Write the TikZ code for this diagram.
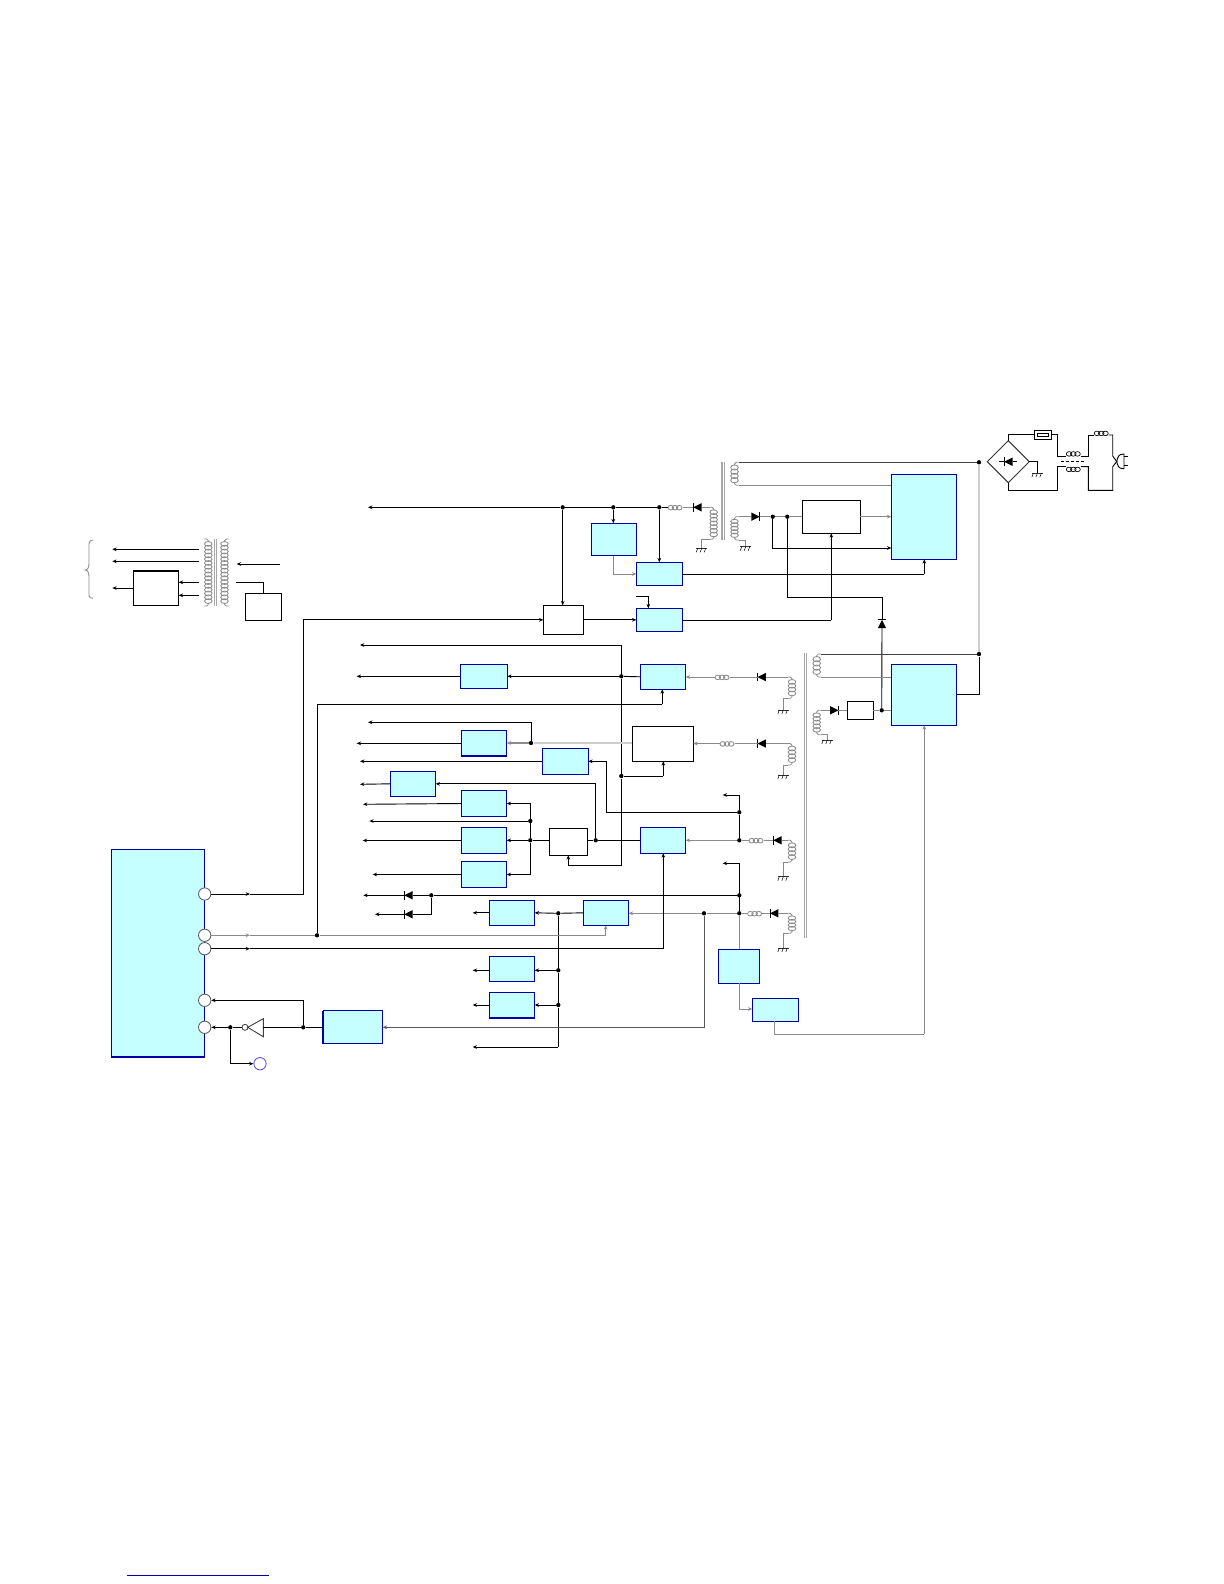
\documentclass[tikz,border=0pt]{standalone}
\usepackage{tikz}
\usetikzlibrary{positioning, arrows.meta, shapes.geometric}
\usepackage{xcolor}
\definecolor{cyanfill}{HTML}{C6FFFF}
\definecolor{boxblue}{HTML}{0000A8}
\definecolor{wiregray}{HTML}{8A8A8A}
\definecolor{palegray}{HTML}{CFCFCF}
\definecolor{pinblue}{HTML}{5050D0}
\tikzset{
  pics/diode/.style={code={
    \coordinate (-in) at (-4.2,0);
    \coordinate (-out) at (4.2,0);
    \fill (-4.2,-4.2) -- (4.2,0) -- (-4.2,4.2) -- cycle;
    \draw[line width=0.55pt] (4.2,-4.4) -- (4.2,4.4);
  }},
  pics/ind/.style={code={
    \coordinate (-a) at (-7.5,0);
    \coordinate (-b) at (7.5,0);
    \foreach \k in {-4.2,0,4.2} \draw[indln] (\k,0.4) ellipse [x radius=2.8, y radius=2.3];
  }},
  pics/vcoil/.style 2 args={code={
    \coordinate (-t) at (#2,-3);
    \coordinate (-b) at (#2,#1+3);
    \pgfmathtruncatemacro{\nloop}{round(#1/3.8)}
    \pgfmathsetmacro{\stp}{#1/\nloop}
    \foreach \i in {1,...,\nloop}
      \draw[grayw] (0,{(\i-0.5)*\stp}) ellipse [x radius=3.8, y radius={\stp*0.62}];
    \draw[grayw, rounded corners=1pt] (-t) -| (0,0);
    \draw[grayw, rounded corners=1pt] (0,#1) |- (-b);
  }},
  pics/gnd/.style={code={
    \draw[draw=black!80, line width=0.45pt] (-5.5,0) -- (5.5,0);
    \foreach \k in {-4,0,4} \draw[line width=0.3pt] (\k,0) -- (\k-1.5,4);
  }},
}
\begin{document}
\begin{tikzpicture}[
    x=0.6pt, y=-0.6pt,
    boxsize/.style 2 args={minimum width=#1*0.6pt, minimum height=#2*0.6pt},
    bluebox/.style={rectangle, draw=boxblue, fill=cyanfill, line width=0.6pt,
      inner sep=0pt, outer sep=0pt},
    plainbox/.style={rectangle, draw=black, fill=white, line width=0.6pt,
      inner sep=0pt, outer sep=0pt},
    wire/.style={draw=black, line width=0.55pt},
    grayw/.style={draw=wiregray, line width=0.5pt},
    indln/.style={grayw},
    paleln/.style={draw=palegray, line width=0.9pt},
    arr/.style={-{Stealth[length=2.6pt, width=2.2pt]}},
    dot/.style={circle, fill=black, inner sep=0pt, minimum size=2.6pt},
    pin/.style={circle, draw=black!65, fill=white, line width=0.5pt, inner sep=0pt, minimum size=7.4pt},
    edge/.style={draw=boxblue, line width=1.1pt},
  ]
  \useasboundingbox (0,0) rectangle (1224,1584);

  \node[bluebox, boxsize={93.4}{207.7}] (mcu) at (158,953.2) {};
  \node[bluebox, boxsize={65.4}{85}] (bTop) at (924,516.8) {};
  \node[bluebox, boxsize={65.4}{61}] (bLow) at (924,694.8) {};
  \foreach \n/\x/\y/\w/\h in {
      bA/614/539.5/45.4/32.4, bB/659.3/573.8/46/23, bC/659.3/619.8/46/23,
      bD/483.8/676.3/47/24, bE/663/676.8/45.4/25, bF/484/743.3/45.4/26,
      bG/565.3/761.3/46/26, bH/413/783.8/45.4/25, bI/484/803.5/45.4/26.4,
      bJ/484/840.5/45.4/26.4, bK/484/874.5/45.4/26, bL/663/840.3/45.4/26,
      bM/512/912.8/45.4/25, bN/606/912.8/45.4/25, bO/512/968.8/45.4/25,
      bP/512/1005.3/45.4/26, bQ/738.8/966.3/41/34, bR/775.5/1009.8/46.4/23,
      bS/353/1027.3/59.4/33}
    \node[bluebox, boxsize={\w}{\h}] (\n) at (\x,\y) {};
  \foreach \n/\x/\y/\w/\h in {
      wReg/831.3/516.8/58/33, wVreg/860.3/710.3/26/18, wA/563.3/619.8/40/29,
      wB/662.8/743.8/61/35, wC/568.5/841.8/38.4/27, wD/156/588/45.4/34.6,
      wE/263.5/606.8/36.4/27}
    \node[plainbox, boxsize={\w}{\h}] (\n) at (\x,\y) {};

  \draw[edge] (mcu.south west) -- (mcu.south east);
  \draw[edge] (bF.south west) -- (bF.south east);
  \draw[edge] (bP.south west) -- (bP.south east);
  \draw[edge] (bS.south west) -- (bS.north west);
  \draw[wire, line width=1.1pt] (wD.north west) -- (wD.north east);

  \foreach \n/\x/\y in {
      jrA/562.7/507.3, jrB/613.3/507.3, jrC/659.3/507.3, jtA/772.7/516.7,
      jtB/787.3/516.7, jhA/979/462.3, jhB/979/654, jlA/881.7/710.3,
      jpE/621.3/676.3, jpW/621.3/776, jmA/531/743, jkA/530.3/821, jkB/530.3/840.3,
      jsA/595.7/840.3, jvA/739.3/812.3, jvB/739.3/840.3, jvC/739.3/895.3,
      jvD/739.3/913.3, jgA/704/913.3, jdA/431.3/895.3, jnA/558.3/913.3,
      jnB/558.3/970.3, jnC/558.3/1005, jpin/317/935.3, jinv/303.3/1027.3,
      jmcu/230.3/1027.3}
    \node[dot] (\n) at (\x,\y) {};

  \foreach \n/\x/\y in {
      outA/368/507.3, outB/360/645, outC/356.7/676.3, outD/368/722.3,
      outE/356.7/743.3, outF/360/761.3, outG/360/784.3, outH/363/804.3,
      outI/369.3/821, outJ/362.7/840.5, outK/372.7/874.5, outL/363.3/895.3,
      outM/375/914.3, outN/472.7/912.8, outO/472.7/970.3, outP/472.7/1005,
      outQ/472.7/1047, outR/722.7/795, outS/722.7/863.3,
      cnA/303.3/619.8, cnB/605.7/935.3, cnC/662.3/704.3, cnD/663.3/948.7,
      cnE/924.3/574.3, cnF/831.3/620.3, cnG/882/597.3, cnH/613.3/574,
      stubA/636/596.7, cnI/648.3/596.7, cnJ/606.3/812.3, cnK/595.7/783.7,
      cnL/568.3/865.3, cnM/663.3/776, cnN/558.3/1047, cnO/739.3/1009,
      cnP/924.3/1034, cnQ/531/722.3, cnR/431.3/914.3, cnS/530.3/875,
      cnT/891.3/548, cnU/774.3/1021.3,
      mkA/250/894, mkB/250/935.3, mkC/250/948.7,
      lftA/112.3/549.3, lftB/112.3/561.3, lftC/112.3/588,
      trA/199/549.3, trB/199/561.3, trC/199/582.3, trD/199/595.3,
      trE/280/564, trF/236.7/564, trG/236/582.3,
      chA/1057.3/456, chD/1088.3/456,
      chE/1057.3/466.7, chH/1088.3/466.7,
      chI/1057.3/490.3, chJ/1112.7/490.3, plA/1112.7/456, plB/1112.7/466.7,
      plT/1116.7/461.5, brG/1037.3/473.3, uline/127/1575.3, ulineb/268.7/1575.3}
    \coordinate (\n) at (\x,\y);

  % supply side, top right
  \node[diamond, draw=black!80, aspect=1, line width=0.6pt, inner sep=0pt, outer sep=0pt,
    boxsize={42}{42}] (bridge) at (1008.3,461.7) {};
  \node[plainbox, boxsize={17.7}{9.3}] (fuse) at (1042.85,434.7) {};
  \node[plainbox, boxsize={11.4}{3.7}] (fusein) at (1043,434.85) {};
  \pic[rotate=180] (dBr) at (1008.3,461.7) {diode};
  \draw[wire, line width=0.4pt] (999.3,461.7) -- (dBr-out);
  \draw[wire, line width=0.4pt] (dBr-in) -- (1017.3,461.7);
  \draw[wire] (bridge.north) |- (fuse.west);
  \pic[indln/.style={wire, line width=0.4pt}] (iChA) at (1073.3,453.5) {ind};
  \pic[indln/.style={wire, line width=0.4pt}] (iChB) at (1073.3,469) {ind};
  \draw[wire] (fuse.east) -| (chA) -- (iChA-a |- chA);
  \draw[wire] (bridge.south) |- (chI) -- (chE) -- (iChB-a |- chE);
  \draw[wire] (bridge.east) -| (brG);
  \pic at (brG) {gnd};
  \pic[indln/.style={wire, line width=0.4pt}] (iCh) at (1101.2,433) {ind};
  \draw[wire] (iChA-b |- chD) -- (chD) |- (iCh-a |- 0,435);
  \draw[wire] (iCh-b |- 0,435) -| (plA) -- (plT) -- (plB) -- (chJ) -- (chH |- chJ) -- (chH) -- (iChB-b |- chH);
  \draw[wire, dash pattern=on 2pt off 1pt] (1061,461.3) -- (1085,461.3);
  \draw[wire] (1124,454) .. controls (1118,454) and (1118,457) .. (plT)
    .. controls (1118,466) and (1118,468.7) .. (1124,468.7) -- cycle;
  \draw[wire] (1124,456) -- (1128.3,456);
  \draw[wire] (1124,465.7) -- (1128.3,465.7);
  \draw[paleln, line width=1.1pt] (jhA) -- (jhB);

  % transformer cores
  \foreach \x/\a/\b in {722/461.7/540, 724.3/461.7/540, 804.3/653/938, 806.7/653/938,
      214.3/539/606, 216.7/539/606}
    \draw[paleln, line width=0.7pt, draw=palegray!80!black] (\x,\a) -- (\x,\b);

  \pic (cA) at (734.5,465.3) {vcoil={17}{4}};
  \draw[wire, draw=black!75] (cA-t) -- (jhA);
  \draw[grayw] (cA-b) -- (cA-b -| bTop.west);
  \pic (cB) at (734.5,519.7) {vcoil={17.3}{4}};
  \pic[rotate=0] (dB) at (755.5,516.7) {diode};
  \draw[grayw] (cB-t) -- (dB-in);
  \draw[grayw] (dB-out) -- (jtA) -- (jtB) -- (jtB -| wReg.west);
  \draw[grayw, arr] (wReg.east |- jtB) -- (jtB -| bTop.west);
  \draw[wire, arr] (jtA) |- (cnT);
  \draw[grayw] (cB-b) -| (745.7,546.7);
  \pic at (745.7,546.7) {gnd};
  \draw[wire] (jtB) |- (cnG);
  \pic[rotate=90] (dU) at (882,624) {diode};
  \draw[wire] (jlA) -- (dU-in);
  \draw[wire] (dU-out) -- (cnG);

  \pic (cC) at (816.7,657) {vcoil={17}{4}};
  \draw[wire, draw=black!75] (cC-t) -- (jhB);
  \draw[grayw] (cC-b) -- (cC-b -| bLow.west);
  \draw[wire] (bLow.east) -| (jhB);
  \pic (cD) at (816.7,713.3) {vcoil={18.4}{4}};
  \pic (dD) at (834.2,710.3) {diode};
  \draw[grayw] (cD-t) -- (dD-in);
  \draw[grayw] (dD-out) -- (wVreg.west);
  \draw[grayw] (wVreg.east) -- (jlA) -- (bLow.west |- jlA);
  \draw[grayw] (cD-b) -| (827.3,740);
  \pic at (827.3,740) {gnd};

  % main rail
  \draw[wire, arr] (jrA) -- (outA);
  \draw[wire] (jrA) -- (jrB) -- (jrC);
  \pic (iT) at (675,507.3) {ind};
  \draw[wire] (jrC) -- (iT-a);
  \pic[rotate=180] (dT) at (697.5,507.3) {diode};
  \draw[grayw] (iT-b) -- (dT-out);
  \pic (cT) at (713.7,510.3) {vcoil={26}{-4}};
  \draw[grayw] (dT-in) -- (cT-t);
  \draw[grayw] (cT-b) -| (701.7,548.3);
  \pic at (701.7,548.3) {gnd};
  \draw[wire, arr] (jrA) -- (jrA |- wA.north);
  \draw[wire, arr] (jrB) -- (jrB |- bA.north);
  \draw[wire, arr] (jrC) -- (jrC |- bB.north);
  \draw[grayw, arr] (jrB |- bA.south) |- (cnH -| bB.west);
  \draw[wire, arr] (stubA) -| (cnI |- bC.north);
  \draw[wire, arr] (wA.east) -- (bC.west);
  \draw[wire] (bB.east |- cnE) -| (cnE);
  \draw[wire, arr] (cnE) -- (cnE |- bTop.south);
  \draw[wire] (bC.east |- cnF) -| (cnF);
  \draw[wire, arr] (cnF) -- (cnF |- wReg.south);

  % secondaries
  \pic (iE) at (722,677) {ind};
  \pic[rotate=180] (dE) at (761.7,677) {diode};
  \pic (cE) at (792,680) {vcoil={15.3}{-4}};
  \draw[grayw, arr] (iE-a) -- (iE-a -| bE.east);
  \draw[grayw] (iE-b) -- (dE-out);
  \draw[grayw] (dE-in) -- (cE-t);
  \draw[grayw] (cE-b) -| (783.3,710);
  \pic at (783.3,710) {gnd};

  \pic (iW) at (727,743.5) {ind};
  \pic[rotate=180] (dW) at (761.7,743.5) {diode};
  \pic (cW) at (792,746.5) {vcoil={15.5}{-4}};
  \draw[grayw, arr] (iW-a) -- (iW-a -| wB.east);
  \draw[grayw] (iW-b) -- (dW-out);
  \draw[grayw] (dW-in) -- (cW-t);
  \draw[grayw] (cW-b) -| (783.3,775);
  \pic at (783.3,775) {gnd};

  \pic (iL) at (756,840.3) {ind};
  \pic[rotate=180] (dL) at (777.5,840.3) {diode};
  \pic (cL) at (792,843.3) {vcoil={15.7}{-4}};
  \draw[paleln, arr, draw=black!45] (jvB) -- (jvB -| bL.east);
  \draw[grayw] (jvB) -- (iL-a);
  \draw[grayw] (iL-b) -- (dL-out);
  \draw[grayw] (dL-in) -- (cL-t);
  \draw[grayw] (cL-b) -| (783.3,876.7);
  \pic at (783.3,876.7) {gnd};

  \pic (iN) at (754.6,913.3) {ind};
  \pic[rotate=180] (dN) at (774.2,913.3) {diode};
  \pic (cN) at (792,916.3) {vcoil={14}{-4}};
  \draw[grayw] (jvD) -- (iN-a);
  \draw[grayw] (iN-b) -- (dN-out);
  \draw[grayw] (dN-in) -- (cN-t);
  \draw[grayw] (cN-b) -| (783.3,948);
  \pic at (783.3,948) {gnd};

  % rail to boxes
  \draw[wire, arr] (jvB) -- (jvA) -- (outR -| jvA) -- (outR);
  \draw[wire] (outS -| jvC) -- (jvD);
  \draw[wire, arr] (outS -| jvC) -- (outS);
  \draw[wire, arr] (jvA) -- (cnJ) |- (bG.east);
  \draw[grayw] (jvD) -- (jvD |- bQ.north);
  \draw[grayw, arr] (jvD |- bQ.south) |- (cnO -| bR.west);
  \draw[grayw] (cnU) |- (cnP);
  \draw[grayw, arr] (cnP) -- (cnP |- bLow.south);

  \pic[rotate=180] (dA) at (408.5,895.3) {diode};
  \pic[rotate=180] (dF) at (408.5,914.3) {diode};
  \draw[wire] (jvC) -- (jdA) -- (dA-in);
  \draw[wire, arr] (dA-out) -- (outL);
  \draw[wire] (jdA) |- (dF-in);
  \draw[wire, arr] (dF-out) -- (outM);

  \draw[wire, arr] (outB -| jpE) -- (outB);
  \draw[wire] (outB -| jpE) -- (jpE) -- (jpW) -- (cnL -| jpW) -- (cnL);
  \draw[wire, arr] (cnL) -- (cnL |- wC.south);
  \draw[wire] (jpE) -- (bE.west);
  \draw[wire, arr] (jpE) -- (jpE -| bD.east);
  \draw[wire, arr] (bD.west) -- (outC);
  \draw[wire] (jpW) -| (cnM);
  \draw[wire, arr] (cnM) -- (cnM |- wB.south);

  \draw[paleln] (wB.west |- jmA) -- (jmA);
  \draw[paleln, arr, draw=black!45] (jmA) -- (jmA -| bF.east);
  \draw[wire] (jmA) |- (cnQ);
  \draw[wire, arr] (cnQ) -- (outD);
  \draw[wire, arr] (bF.west) -- (outE);
  \draw[wire, arr] (bG.west) -- (outF);
  \draw[wire, arr] (bH.west) -- (outG);
  \draw[wire, arr] (jsA) |- (bH.east);
  \draw[wire, arr] (bI.west) -- (outH);
  \draw[wire, arr] (jkA) -- (outI);
  \draw[wire, arr] (bJ.west) -- (outJ);
  \draw[wire, arr] (bK.west) -- (outK);
  \draw[wire, arr] (jkB) |- (bI.east);
  \draw[wire, arr] (jkB) |- (bK.east);
  \draw[wire, arr] (jkB) -- (jkB -| bJ.east);
  \draw[wire] (jkB) -- (jkB -| wC.west);
  \draw[wire] (bL.west) -- (jsA) -- (jsA -| wC.east);

  \draw[grayw, arr] (jgA) -- (jgA -| bN.east);
  \draw[grayw] (jvD) -- (jgA);
  \draw[wire] (bN.west) -- (jnA);
  \draw[wire, arr] (jnA) -- (bM.east);
  \draw[wire, arr] (bM.west) -- (outN);
  \draw[wire] (jnA) -- (jnB) -- (jnC) -- (cnN);
  \draw[wire, arr] (cnN) -- (outQ);
  \draw[wire, arr] (jnB) -- (jnB -| bO.east);
  \draw[wire, arr] (jnC) -- (jnC -| bP.east);
  \draw[wire, arr] (jnB -| bO.west) -- (outO);
  \draw[wire, arr] (jnC -| bP.west) -- (outP);
  \draw[grayw, draw=black!65, arr] (jgA) |- (bS.east);

  % left block
  \foreach \x/\s in {208.3/-4, 224.5/4}
    \pic at (\x,542) {vcoil={61}{\s}};
  \draw[wire, arr] (trA) -- (lftA);
  \draw[wire, arr] (trB) -- (lftB);
  \draw[wire, arr] (trC) -- (trC -| wD.east);
  \draw[wire, arr] (trD) -- (trD -| wD.east);
  \draw[wire, arr] (wD.west) -- (lftC);
  \draw[wire, arr] (trE) -- (trF);
  \draw[wire] (trG) -| (wE.north);
  \draw[grayw] (93,540) .. controls (88,540) and (89,545) .. (89,550) -- (89,563)
    .. controls (89,567) and (88,570) .. (85,570)
    .. controls (88,570) and (89,573) .. (89,577) -- (89,590)
    .. controls (89,595) and (88,598.3) .. (93,598.3);

  % microcontroller pins
  \foreach \n/\y in {pinA/894, pinB/935.3, pinC/948.7, pinD/1000.3, pinE/1027.3}
    \node[pin] (\n) at (204.7,\y) {};
  \node[pin, draw=pinblue] (tp) at (260,1063.7) {};

  \draw[wire, arr] (pinA) -- (mkA);
  \draw[wire] (mkA) -| (cnA);
  \draw[wire, arr] (cnA) -- (wA.west);
  \draw[grayw, arr] (pinB) -- (mkB);
  \draw[grayw] (mkB) -- (jpin) -- (cnB);
  \draw[grayw, arr] (cnB) -- (cnB |- bN.south);
  \draw[wire] (jpin) |- (cnC);
  \draw[wire, arr] (cnC) -- (cnC |- bE.south);
  \draw[wire, arr] (pinC) -- (mkC);
  \draw[wire] (mkC) -- (cnD);
  \draw[wire, arr] (cnD) -- (cnD |- bL.south);

  \node[circle, draw=black!75, fill=white, line width=0.5pt, inner sep=0pt, minimum size=3.6pt] (invbub) at (245,1027.3) {};
  \draw[black!75, line width=0.55pt] (247.7,1027.3) -- (263.3,1018.7) -- (263.3,1036.7) -- cycle;
  \coordinate (invin) at (263.3,1027.3);
  \draw[wire] (bS.west) -- (jinv) -- (invin);
  \draw[wire, arr] (jinv) |- (pinD);
  \draw[wire] (invbub) -- (jmcu);
  \draw[wire, arr] (jmcu) -- (pinE);
  \draw[wire, arr] (jmcu) |- (tp);

  \draw[draw=boxblue, line width=0.65pt] (uline) -- (ulineb);
\end{tikzpicture}
\end{document}
